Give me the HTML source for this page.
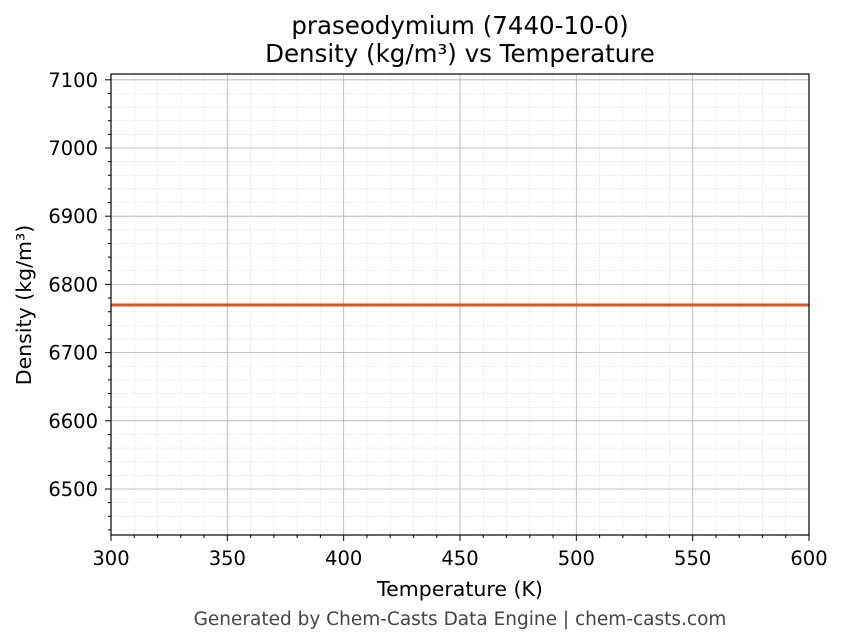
<!DOCTYPE html>
<html><head><meta charset="utf-8"><style>body{margin:0;background:#fff}svg{display:block}</style></head><body>
<svg width="843" height="644" xmlns="http://www.w3.org/2000/svg" font-family="DejaVu Sans, sans-serif">
<rect width="843" height="644" fill="#fff"/>
<g id="minor" stroke="#ddd" stroke-width="0.6" stroke-dasharray="1.5,1.5">
</g>
<g id="major" stroke="#b0b0b0" stroke-width="0.8"></g>
<line x1="111" y1="305" x2="809" y2="305" stroke="#d9541e" stroke-width="3"/>
<rect x="111" y="74" width="698" height="461" fill="none" stroke="#000" stroke-width="1.2"/>
<g id="ticks" stroke="#000" stroke-width="1"></g>
<g id="labels" font-size="17" fill="#000" style="font-size:19.5px"></g>
<text x="460" y="34" text-anchor="middle" font-size="24.5">praseodymium (7440-10-0)</text>
<text x="460" y="62" text-anchor="middle" font-size="24.5">Density (kg/m³) vs Temperature</text>
<text x="460" y="596" text-anchor="middle" font-size="20.5">Temperature (K)</text>
<text transform="translate(31,305) rotate(-90)" text-anchor="middle" font-size="20.5">Density (kg/m³)</text>
<text x="460" y="625" text-anchor="middle" font-size="18.5" fill="#444">Generated by Chem-Casts Data Engine | chem-casts.com</text>
<script>
const ns="http://www.w3.org/2000/svg";
function el(p,t,a){const e=document.createElementNS(ns,t);for(const k in a)e.setAttribute(k,a[k]);document.getElementById(p).appendChild(e);return e;}
const X=v=>111+(v-300)*698/300, Y=v=>148+(7000-v)*0.682;
for(let v=300;v<=600;v+=10){const x=X(v);const maj=v%50==0;
 if(!maj){el('minor','line',{x1:x,y1:74,x2:x,y2:535});el('ticks','line',{x1:x,y1:535,x2:x,y2:538});}
 else{ if(v>300&&v<600)el('major','line',{x1:x,y1:74,x2:x,y2:535});el('ticks','line',{x1:x,y1:535,x2:x,y2:541});
 const t=el('labels','text',{x:x,y:565,'text-anchor':'middle'});t.textContent=v;}}
for(let v=6440;v<=7100;v+=20){const y=Y(v);const maj=v%100==0;
 if(!maj){el('minor','line',{x1:111,y1:y,x2:809,y2:y});el('ticks','line',{x1:108,y1:y,x2:111,y2:y});}
 else{el('major','line',{x1:111,y1:y,x2:809,y2:y});el('ticks','line',{x1:105,y1:y,x2:111,y2:y});
 const t=el('labels','text',{x:98,y:y+7,'text-anchor':'end'});t.textContent=v;}}
</script>
</svg>
</body></html>
